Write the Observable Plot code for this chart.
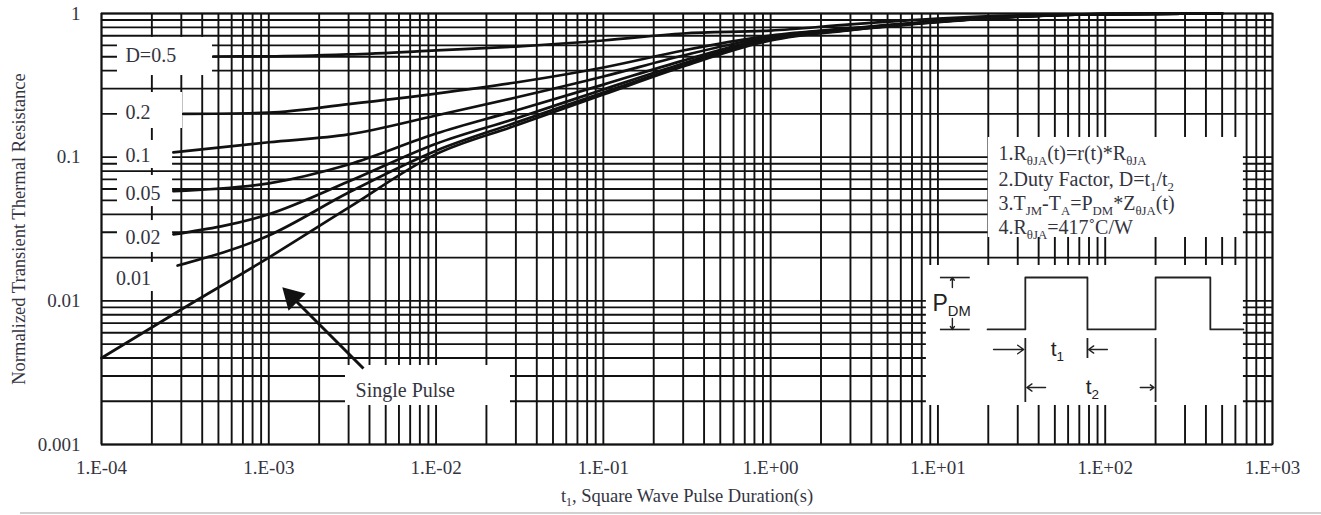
<!DOCTYPE html>
<html>
<head>
<meta charset="utf-8">
<script src="https://cdn.jsdelivr.net/npm/d3@7"></script>
<script src="https://cdn.jsdelivr.net/npm/@observablehq/plot@0.6"></script>
<style>
  body { margin: 0; background: #fff; }
  #chart svg { display: block; }
  .baseline-rule { margin-left: 20px; margin-top: 1px; height: 2px; background: #d0d0d0; }
</style>
</head>
<body>
<div id="chart"></div>
<div class="baseline-rule"></div>
<script>
// ---------- axis ticks ----------
const xTicks = [1e-4, 1e-3, 1e-2, 1e-1, 1, 10, 100, 1000];
const xTickLabels = ["1.E-04", "1.E-03", "1.E-02", "1.E-01", "1.E+00", "1.E+01", "1.E+02", "1.E+03"];
const yTicks = [0.001, 0.01, 0.1, 1];
const yTickLabels = ["0.001", "0.01", "0.1", "1"];
const xAxisLabel = "t_{1}, Square Wave Pulse Duration(s)";
const yAxisLabel = "Normalized Transient Thermal Resistance";

// ---------- curves (t in s, normalized r(t)) ----------
const seriesNames = ["D=0.5", "D=0.2", "D=0.1", "D=0.05", "D=0.02", "D=0.01", "Single Pulse"];
const tD05  = [4.67e-4, 1e-3, 3e-3, 1e-2, 3e-2, 0.1, 0.3, 1, 3, 10, 30, 100, 500];
const zD05  = [0.502, 0.503, 0.519, 0.553, 0.589, 0.649, 0.726, 0.761, 0.84, 0.92, 0.97, 0.99, 1.0];
const tD02  = [3.09e-4, 1e-3, 3e-3, 1e-2, 3e-2, 0.1, 0.3, 1, 3, 10, 30, 100, 500];
const zD02  = [0.200, 0.204, 0.234, 0.277, 0.331, 0.421, 0.553, 0.703, 0.79, 0.885, 0.955, 0.99, 1.0];
const tD01  = [2.69e-4, 1e-3, 3e-3, 1e-2, 3e-2, 0.1, 0.3, 1, 3, 10, 30, 100, 500];
const zD01  = [0.108, 0.127, 0.144, 0.195, 0.26, 0.364, 0.51, 0.69, 0.785, 0.88, 0.953, 0.99, 1.0];
const tD005 = [2.69e-4, 1e-3, 3e-3, 1e-2, 3e-2, 0.1, 0.3, 1, 3, 10, 30, 100, 500];
const zD005 = [0.058, 0.0657, 0.089, 0.146, 0.211, 0.32, 0.47, 0.68, 0.78, 0.88, 0.952, 0.99, 1.0];
const tD002 = [2.69e-4, 1e-3, 3e-3, 1e-2, 3e-2, 0.1, 0.3, 1, 3, 10, 30, 100, 500];
const zD002 = [0.029, 0.040, 0.0676, 0.124, 0.186, 0.296, 0.449, 0.67, 0.775, 0.878, 0.951, 0.99, 1.0];
const tD001 = [2.85e-4, 1e-3, 3e-3, 1e-2, 3e-2, 0.1, 0.3, 1, 3, 10, 30, 100, 500];
const zD001 = [0.0176, 0.0285, 0.0567, 0.111, 0.174, 0.282, 0.434, 0.659, 0.77, 0.875, 0.95, 0.99, 1.0];
const tSP   = [1e-4, 3e-4, 1e-3, 3e-3, 1e-2, 3e-2, 0.1, 0.3, 1, 3, 10, 30, 100, 500];
const zSP   = [0.004, 0.0087, 0.020, 0.0445, 0.105, 0.166, 0.273, 0.428, 0.649, 0.765, 0.87, 0.95, 0.99, 1.0];

const tArrays = [tD05, tD02, tD01, tD005, tD002, tD001, tSP];
const zArrays = [zD05, zD02, zD01, zD005, zD002, zD001, zSP];

// ---------- curve labels (with their white backgrounds) ----------
const curveLabelText = ["D=0.5", "0.2", "0.1", "0.05", "0.02", "0.01"];
const curveLabelT = [1.39e-4, 1.39e-4, 1.39e-4, 1.39e-4, 1.39e-4, 1.22e-4];
const curveLabelZ = [0.510, 0.2046, 0.1027, 0.0559, 0.0276, 0.0143];
const labelBoxT1 = [1.246e-4, 1.246e-4, 1.246e-4, 1.246e-4, 1.246e-4, 1.132e-4];
const labelBoxT2 = [4.61e-4, 3.05e-4, 2.66e-4, 2.66e-4, 2.66e-4, 2.66e-4];
const labelBoxZ1 = [0.681, 0.2818, 0.1306, 0.0746, 0.0362, 0.0185];
const labelBoxZ2 = [0.370, 0.1583, 0.0834, 0.0453, 0.0217, 0.01161];

// ---------- notes ----------
const noteLines = [
  "1.R_{θJA}(t)=r(t)*R_{θJA}",
  "2.Duty Factor, D=t_{1}/t_{2}",
  "3.T_{JM}-T_{A}=P_{DM}*Z_{θJA}(t)",
  "4.R_{θJA}=417˚C/W"
];
const noteT = 23.0;
const noteZ = [0.1060, 0.0699, 0.0476, 0.0324];
const noteBox = {x1: 20.0, x2: 670, y1: 0.1371, y2: 0.0276};

// ---------- single-pulse annotation ----------
const pulseText = "Single Pulse";
const pulseTextT = 3.30e-3, pulseTextZ = 0.002377;
const pulseBox = {x1: 2.874e-3, x2: 2.785e-2, y1: 0.003548, y2: 0.001869};
const pulseShaft = {x1: 3.68e-3, y1: 0.00338, x2: 1.38e-3, y2: 0.0106};
const pulseHead = {t: 1.38e-3, z: 0.0106};

// ---------- inset waveform schematic ----------
const insetBox = {x1: 8.53, x2: 670, y1: 0.01762, y2: 0.001869};
const waveT = [19.8, 33.3, 33.3, 78.3, 78.3, 200, 200, 425, 425, 670];
const waveZ = [0.00632, 0.00632, 0.01453, 0.01453, 0.00632, 0.00632, 0.01453, 0.01453, 0.00632, 0.00632];
const pdmLevels = [0.01453, 0.00632];
const pdmSpan = [10.35, 15.6];
const pdmArrows = [
  {x1: 12.2, y1: 0.01239, x2: 12.2, y2: 0.01453},
  {x1: 12.2, y1: 0.00754, x2: 12.2, y2: 0.00632}
];
const markerT = [33.3, 78.3, 200];
const markerTop = [0.00547, 0.00547, 0.00547];
const markerBottom = [0.001961, 0.00397, 0.001961];
const spanArrows = [
  {x1: 21.5, y1: 0.004584, x2: 32.6, y2: 0.004584},
  {x1: 103, y1: 0.004584, x2: 79.5, y2: 0.004584},
  {x1: 44, y1: 0.002494, x2: 34.0, y2: 0.002494},
  {x1: 162, y1: 0.002494, x2: 196, y2: 0.002494}
];
const pdmLabel = "P_{DM}";
const pdmLabelT = 9.27, pdmLabelZ = 0.00960;
const spanLabels = ["t_{1}", "t_{2}"];
const spanLabelT = [51.8, 83.8];
const spanLabelZ = [0.004584, 0.002494];

// ---------- build tables ----------
const curves = seriesNames.flatMap((s, i) => tArrays[i].map((t, j) => ({series: s, t, z: zArrays[i][j]})));
const labelRows = curveLabelText.map((text, i) => ({text, t: curveLabelT[i], z: curveLabelZ[i]}));
const boxRows = curveLabelText.map((_, i) => ({x1: labelBoxT1[i], x2: labelBoxT2[i], y1: labelBoxZ1[i], y2: labelBoxZ2[i]}))
  .concat([noteBox, pulseBox, insetBox]);
const noteRows = noteLines.map((text, i) => ({text, t: noteT, z: noteZ[i]}));
const waveRows = waveT.map((t, i) => ({t, z: waveZ[i]}));
const markerRows = markerT.map((t, i) => ({t, y1: markerTop[i], y2: markerBottom[i]}));
const spanRows = spanLabels.map((text, i) => ({text, t: spanLabelT[i], z: spanLabelZ[i]}));
const xGrid = d3.range(-4, 3).flatMap(k => d3.range(1, 10).map(m => m * Math.pow(10, k))).concat([1000]);
const yGrid = d3.range(-3, 0).flatMap(k => d3.range(1, 10).map(m => m * Math.pow(10, k))).concat([1]);

const ink = "#111";
const textInk = "#34343f";
const sans = "'Liberation Sans', Arial, sans-serif";

const svg = Plot.plot({
  width: 1321,
  height: 511,
  marginLeft: 101,
  marginRight: 49,
  marginTop: 13,
  marginBottom: 67,
  x: {type: "log", domain: [1e-4, 1e3], axis: null},
  y: {type: "log", domain: [1e-3, 1], axis: null},
  style: {fontFamily: "'Liberation Serif', 'Times New Roman', serif", background: "white", overflow: "visible"},
  marks: [
    Plot.ruleX(xGrid, {stroke: ink, strokeWidth: 1.9}),
    Plot.ruleY(yGrid, {stroke: ink, strokeWidth: 1.9}),
    Plot.rect(boxRows, {x1: "x1", x2: "x2", y1: "y1", y2: "y2", fill: "white"}),
    Plot.line(curves, {x: "t", y: "z", z: "series", stroke: ink, strokeWidth: 2.7, curve: "monotone-x"}),
    Plot.link([pulseShaft], {x1: "x1", y1: "y1", x2: "x2", y2: "y2", stroke: ink, strokeWidth: 3}),
    Plot.dot([pulseHead], {x: "t", y: "z", symbol: "triangle", r: 9, rotate: -45, fill: ink, stroke: "none"}),
    // inset schematic
    Plot.line(waveRows, {x: "t", y: "z", stroke: "#222", strokeWidth: 1.8}),
    Plot.ruleY(pdmLevels, {x1: pdmSpan[0], x2: pdmSpan[1], stroke: "#222", strokeWidth: 1.6}),
    Plot.arrow(pdmArrows, {x1: "x1", y1: "y1", x2: "x2", y2: "y2", stroke: "#222", strokeWidth: 1.4, headLength: 7, headAngle: 70}),
    Plot.ruleX(markerRows, {x: "t", y1: "y1", y2: "y2", stroke: "#222", strokeWidth: 1.8}),
    Plot.arrow(spanArrows, {x1: "x1", y1: "y1", x2: "x2", y2: "y2", stroke: "#222", strokeWidth: 1.4, headLength: 8, headAngle: 70}),
    Plot.text([pdmLabel], {x: pdmLabelT, y: pdmLabelZ, text: d => d, textAnchor: "start", fontFamily: sans, fontSize: 23, fill: "#222"}),
    Plot.text(spanRows, {x: "t", y: "z", text: "text", fontFamily: sans, fontSize: 21, fill: "#222"}),
    // texts
    Plot.text(labelRows, {x: "t", y: "z", text: "text", textAnchor: "start", fontSize: 20, fill: textInk, ariaLabel: "curvelabel"}),
    Plot.text(noteRows, {x: "t", y: "z", text: "text", textAnchor: "start", fontSize: 20, fill: textInk, ariaLabel: "note"}),
    Plot.text([pulseText], {x: pulseTextT, y: pulseTextZ, text: d => d, textAnchor: "start", fontSize: 20, fill: textInk, ariaLabel: "pulse"}),
    Plot.frame({stroke: ink, strokeWidth: 1.6}),
    Plot.text(xTicks, {x: d => d, frameAnchor: "bottom", dy: 29, text: (d, i) => xTickLabels[i], fontSize: 19, fill: textInk, ariaLabel: "ticklabel"}),
    Plot.text(yTicks, {y: d => d, frameAnchor: "left", dx: -21, textAnchor: "end", text: (d, i) => yTickLabels[i], fontSize: 19, fill: textInk, ariaLabel: "ticklabel"}),
    Plot.text([xAxisLabel], {frameAnchor: "bottom", dy: 57, text: d => d, fontSize: 18.5, fill: textInk, ariaLabel: "xlabel"}),
    Plot.text([yAxisLabel], {frameAnchor: "left", textAnchor: "middle", dx: -82, rotate: -90, text: d => d, fontSize: 18.5, fill: textInk, ariaLabel: "ylabel"})
  ]
});
document.getElementById("chart").append(svg);

// subscripts: "_{...}" -> lowered small tspan
const NS = "http://www.w3.org/2000/svg";
svg.querySelectorAll("text").forEach(el => {
  const s = el.textContent;
  if (!s.includes("_{")) return;
  const fs = parseFloat(getComputedStyle(el).fontSize) || 16;
  const d = fs * 0.24;
  const subScale = el.closest('g[aria-label="note"]') ? 0.7 : 0.64;
  el.textContent = "";
  let inSub = false;
  for (const p of s.split(/(_\{[^}]*\})/)) {
    if (!p) continue;
    const ts = document.createElementNS(NS, "tspan");
    const sub = p.startsWith("_{");
    ts.textContent = sub ? p.slice(2, -1) : p;
    if (sub) {
      ts.setAttribute("font-size", (fs * subScale) + "px");
      if (!inSub) ts.setAttribute("dy", d);
      inSub = true;
    } else if (inSub) {
      ts.setAttribute("dy", -d);
      inSub = false;
    }
    el.appendChild(ts);
  }
});

// horizontal stretch of the scanned-looking serif lettering
const stretch = {ticklabel: 1.12, curvelabel: 1.2, note: 1.4, pulse: 1.22, xlabel: 1.2};
for (const [name, k] of Object.entries(stretch)) {
  svg.querySelectorAll(`g[aria-label="${name}"] text`).forEach(el => {
    const tr = el.getAttribute("transform") || "";
    const x = +el.getAttribute("x") || 0, y = +el.getAttribute("y") || 0;
    el.removeAttribute("x"); el.removeAttribute("y");
    el.setAttribute("transform", `${tr} translate(${x},${y}) scale(${k},1)`);
  });
}
</script>
</body>
</html>
